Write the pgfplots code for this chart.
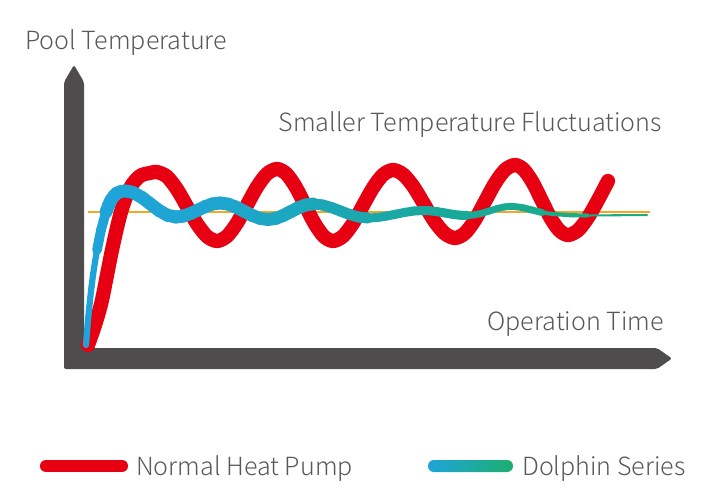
\documentclass[border=0pt]{standalone}
\usepackage{pgfplots}
\pgfplotsset{compat=1.18}
\usepackage{fontspec}
\setmainfont{Noto Sans CJK SC Light}
\definecolor{axisgrey}{HTML}{4F4C4D}
\definecolor{txtgrey}{HTML}{595757}
\definecolor{redline}{HTML}{E60012}
\definecolor{orangeline}{HTML}{F7A823}
\definecolor{blueA}{HTML}{1EA4DA}
\definecolor{greenA}{HTML}{1DAF6E}
\pgfplotsset{colormap={bluegreen}{rgb255(0cm)=(30,164,218); rgb255(1.14cm)=(30,165,210); rgb255(2.14cm)=(27,167,190); rgb255(3.34cm)=(25,168,160); rgb255(5.61cm)=(26,172,125)}}
\newcommand{\lbl}{\fontsize{18.1}{21}\selectfont\color{txtgrey}}
\begin{document}
\begin{tikzpicture}
\begin{axis}[
  scale only axis, width=7.24in, height=5.04in,
  xmin=0, xmax=724, ymin=0, ymax=504, y dir=reverse,
  hide axis, clip=false,
]
\path (axis cs:0,0) rectangle (axis cs:724,504);
% axis bars
\fill[axisgrey, rounded corners=1.5pt] (axis cs:74,65) -- (axis cs:84,82) -- (axis cs:84,348) -- (axis cs:657,348) -- (axis cs:672,358.5) -- (axis cs:657,369) -- (axis cs:64,369) -- (axis cs:64,82) -- cycle;
% reference line
\addplot[orangeline, line width=1.5pt] coordinates {(88,212) (650,212)};
% normal heat pump
\addplot[redline, line width=10.3pt, line cap=round, smooth] table {
88 345
95 325
102 300
112 250
121 212
130 188
140 176
150 173
157 172
167 176.6
177 189.3
187 206.5
197 223.8
207 236.4
217 241
227 236.2
237 223
247 205
257 187
267 173.8
277 169
286.3 173.8
295.7 187
305 205
314.3 223
323.7 236.2
333 241
343 236.2
353 223.3
363 205.5
373 187.8
383 174.8
393 170
403.3 174.6
413.7 187
424 204
434.3 221
444.7 233.4
455 238
465 233.1
475 219.8
485 201.5
495 183.3
505 169.9
515 165
523.8 169.7
532.7 182.5
541.5 200
550.3 217.5
559.2 230.3
568 235
578 230.3
588 217.5
598 200
608 181
};
% dolphin series
\pgfplotsset{dolph/.style={mesh, colormap name=bluegreen, point meta=x, point meta min=86, point meta max=647, line cap=round, line join=round}}
\addplot[dolph, line width=4.5pt] table {
86 345
87 332
88 320
89 310
90 300
91.5 287
93 275
95 262
97 250
};
\addplot[dolph, line width=7pt] table {
97 250
99 240
101 230
103.5 221
106 212
};
\addplot[dolph, line width=9.3pt] table {
106 212
108.5 205.5
111 200
114 196
117 193
121 191.5
125 191
129 191.5
133.5 192.7
142 197.5
150.5 204
159 210.5
167.5 215.3
176 217
183.3 216.1
190.7 213.5
198 210
205.3 206.5
212.7 203.9
220 203
228 204.1
236 207.1
244 211.25
252 215.4
260 218.4
268 219.5
275.5 218.5
283 215.6
290.5 211.75
298 207.9
305.5 205
313 204
};
\addplot[dolph, line width=8pt] table {
313 204
322.2 204.9
331.3 207.5
340.5 211
349.7 214.5
358.8 217.1
368 218
};
\addplot[dolph, line width=6.5pt] table {
368 218
377.2 217.5
386.3 216.1
395.5 214.25
404.7 212.4
413.8 211
423 210.5
430.3 210.8
437.7 211.75
445 213
452.3 214.25
459.7 215.2
467 215.5
};
\addplot[dolph, line width=5pt] table {
467 215.5
474.5 214.9
482 213.2
489.5 210.9
497 208.6
504.5 206.9
512 206.3
522 207.5
532 210
542 212.5
};
\addplot[dolph, line width=3pt] table {
542 212.5
553 214
570 215.2
587 215.5
};
\addplot[dolph, line width=1.5pt] table {
587 215.5
610 215.3
647 215
};
% texts
\node[anchor=base west, inner sep=0pt] at (axis cs:25,49) {\lbl Pool Temperature};
\node[anchor=base east, inner sep=0pt] at (axis cs:662,131) {\lbl Smaller Temperature Fluctuations};
\node[anchor=base east, inner sep=0pt] at (axis cs:664,330) {\lbl Operation Time};
% legend
\draw[redline, line width=8.7pt, line cap=round] (axis cs:46,466) -- (axis cs:122,466);
\node[anchor=base west, inner sep=0pt] at (axis cs:136,475) {\lbl Normal Heat Pump};
\shade[left color=blueA, right color=greenA, rounded corners=4.3pt] (axis cs:428,460) rectangle (axis cs:513,472);
\node[anchor=base west, inner sep=0pt] at (axis cs:522,475) {\lbl Dolphin Series};
\end{axis}
\end{tikzpicture}
\end{document}
